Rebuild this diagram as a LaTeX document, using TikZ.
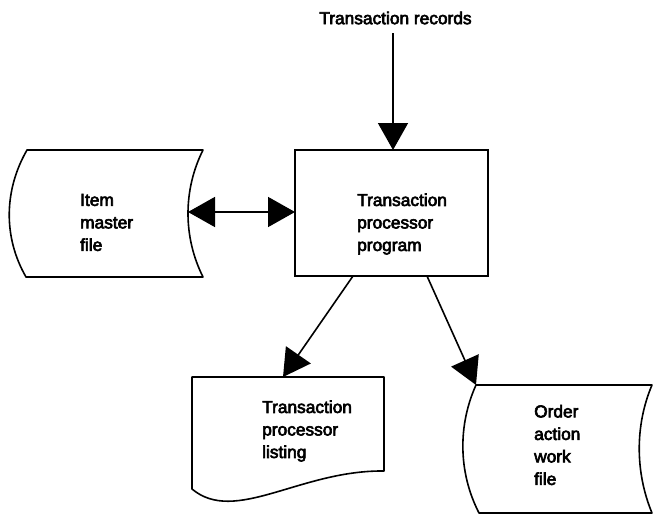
\documentclass[tikz,border=0pt]{standalone}
\usepackage{fontspec}
\setmainfont{Liberation Sans}
\newfontfamily\labelfont{Liberation Sans}[FakeBold=3.5]
\usetikzlibrary{arrows.meta}
\begin{document}
\begin{tikzpicture}[x=1pt,y=-1pt,
    outline/.style={line width=1.6pt, line join=round},
    label/.style={inner sep=0pt, align=left, anchor=west,
      font=\labelfont\fontsize{17.3}{22.5}\selectfont},
    flow/.style={line width=1.6pt, -{Triangle[length=27pt,width=30pt]}},
    bothflow/.style={line width=1.6pt, {Triangle[length=27pt,width=30pt]}-{Triangle[length=27pt,width=30pt]}}]
  \useasboundingbox (0,0) rectangle (654,514);

  % Item master file (storage symbol)
  \draw[outline] (27,150) -- (203,150)
    .. controls (183,190) and (183,237) .. (203,277)
    -- (26,277)
    .. controls (3,237) and (4,190) .. (27,150) -- cycle;
  \coordinate (imf) at (188,212);
  \node[label] (imftext) at (80,222.5) {Item\\master\\file};

  % Transaction processor program
  \node[draw, line width=1.6pt, minimum width=193pt, minimum height=126pt,
        inner sep=0pt] (tpp) at (391.5,213) {};
  \node[label] (tpptext) at (357,224) {Transaction\\processor\\program};
  \coordinate (tppin) at (393,150);
  \coordinate (tppw) at (295,212);
  \coordinate (tppsl) at (353,276);
  \coordinate (tppsr) at (427,276);

  % Input label
  \node[label, anchor=center] (recs) at (395.5,18) {Transaction records};
  \coordinate (recsbot) at (393,33);

  % Transaction processor listing (document symbol)
  \draw[outline] (192,377) -- (384,377) -- (384,471)
    .. controls (300,470) and (235,525) .. (192,489) -- cycle;
  \coordinate (tpl) at (283,377);
  \node[label] (tpltext) at (262,431) {Transaction\\processor\\listing};

  % Order action work file (storage symbol)
  \draw[outline] (476,385) -- (652,385)
    .. controls (635,425) and (635,472) .. (652,513)
    -- (479,513)
    .. controls (458,472) and (458,425) .. (476,385) -- cycle;
  \coordinate (oawf) at (476,385);
  \node[label] (oawftext) at (534,445) {Order\\action\\work\\file};

  % Connectors
  \draw[flow] (recsbot) -- (tppin);
  \draw[bothflow] (imf) -- (tppw);
  \draw[flow] (tppsl) -- (tpl);
  \draw[flow] (tppsr) -- (oawf);
\end{tikzpicture}
\end{document}
